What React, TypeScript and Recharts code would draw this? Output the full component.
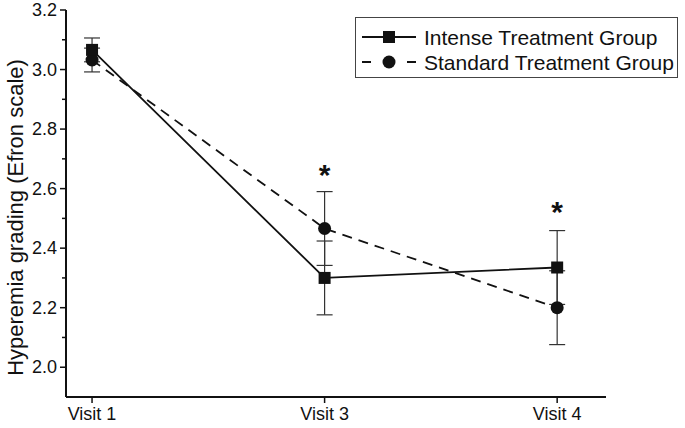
import React from 'react';
import { ComposedChart, Line, Scatter, XAxis, YAxis, ErrorBar, Legend } from 'recharts';

// values (means and error half-widths per visit)
const visits = ['Visit 1', 'Visit 3', 'Visit 4'];
const visitPos = [1, 2, 3];
const intense = [3.066, 2.3, 2.335];
const intenseErr = [0.04, 0.124, 0.124];
const standard = [3.032, 2.466, 2.2];
const standardErr = [0.04, 0.124, 0.124];
const yTicks = [2.0, 2.1, 2.2, 2.3, 2.4, 2.5, 2.6, 2.7, 2.8, 2.9, 3.0, 3.1, 3.2];
// significance markers (*)
const sigPos = [2, 3];
const sigLevel = [2.665, 2.54];

const FONT = '"Liberation Sans", Arial, sans-serif';
const INK = '#111';

const data = visitPos.map((x, i) => ({
  x,
  intense: intense[i],
  intenseErr: intenseErr[i],
  standard: standard[i],
  standardErr: standardErr[i],
}));
const sigData = sigPos.map((x, i) => ({ x, sig: sigLevel[i] }));

const YTick = (props: any) => {
  const { x, y, payload } = props;
  const major = Math.round(payload.value * 10) % 2 === 0;
  return (
    <g>
      <line x1={x - (major ? 6 : 4)} x2={x} y1={y} y2={y} stroke={INK} strokeWidth={1.5} />
      {major && (
        <text x={x - 9} y={y} dy={6} textAnchor="end" fontSize={18} fontFamily={FONT} fill={INK}>
          {payload.value.toFixed(1)}
        </text>
      )}
    </g>
  );
};

const XTick = (props: any) => {
  const { x, y, payload } = props;
  const i = visitPos.indexOf(payload.value);
  return (
    <g>
      <line x1={x} x2={x} y1={y} y2={y + 6} stroke={INK} strokeWidth={1.5} />
      <text x={x} y={y + 23} textAnchor="middle" fontSize={18} fontFamily={FONT} fill={INK}>
        {visits[i]}
      </text>
    </g>
  );
};

const SquareDot = (props: any) => {
  const { cx, cy, index } = props;
  return <rect key={`sq-${index}`} x={cx - 6} y={cy - 6} width={12} height={12} fill={INK} />;
};

const CircleDot = (props: any) => {
  const { cx, cy, index } = props;
  return <circle key={`ci-${index}`} cx={cx} cy={cy} r={6.5} fill={INK} />;
};

const Star = (props: any) => {
  const { cx, cy } = props;
  return (
    <text x={cx} y={cy + 16} textAnchor="middle" fontSize={30} fontWeight="bold" fontFamily={FONT} fill={INK}>
      *
    </text>
  );
};

const renderLegend = () => (
  <svg width={323} height={61} style={{ display: 'block' }}>
    <rect x={0.5} y={0.5} width={322} height={60} fill="#fff" stroke="#444" strokeWidth={1} />
    <line x1={7} x2={61} y1={20} y2={20} stroke={INK} strokeWidth={1.8} />
    <rect x={28} y={14} width={12} height={12} fill={INK} />
    <text x={69} y={28} fontSize={21} fontFamily={FONT} fill={INK}>Intense Treatment Group</text>
    <line x1={7} x2={61} y1={45} y2={45} stroke={INK} strokeWidth={1.8} strokeDasharray="9 36" />
    <circle cx={34} cy={45} r={6.5} fill={INK} />
    <text x={69} y={53} fontSize={21} fontFamily={FONT} fill={INK}>Standard Treatment Group</text>
  </svg>
);

const YLabel = (props: any) => {
  const { viewBox } = props;
  const cy = viewBox.y + viewBox.height / 2 + 14;
  const cx = 15;
  return (
    <text
      x={cx}
      y={cy}
      transform={`rotate(-90, ${cx}, ${cy})`}
      textAnchor="middle"
      dominantBaseline="central"
      fontSize={22}
      fontFamily={FONT}
      fill={INK}
    >
      Hyperemia grading (Efron scale)
    </text>
  );
};

export default function App() {
  return (
    <div style={{ position: 'absolute', left: 0, top: 0, background: '#fff' }}>
      <ComposedChart width={685} height={428} data={data} margin={{ top: 10, right: 79, bottom: 0, left: 0 }}>
        <XAxis
          dataKey="x"
          type="number"
          domain={[0.888, 3.21]}
          ticks={visitPos}
          allowDataOverflow
          height={31}
          tickLine={false}
          tickSize={0}
          tickMargin={0}
          axisLine={{ stroke: INK, strokeWidth: 2 }}
          tick={<XTick />}
        />
        <YAxis
          type="number"
          domain={[1.9, 3.2]}
          ticks={yTicks}
          allowDataOverflow
          width={66}
          tickLine={false}
          tickSize={0}
          tickMargin={0}
          axisLine={{ stroke: INK, strokeWidth: 2 }}
          tick={<YTick />}
          interval={0}
          label={{ content: <YLabel /> }}
        />
        <Legend
          layout="vertical"
          align="center"
          verticalAlign="middle"
          wrapperStyle={{ left: 355, top: 17, width: 323 }}
          content={renderLegend}
        />
        <Line
          dataKey="standard"
          stroke={INK}
          strokeWidth={1.8}
          strokeDasharray="10 7"
          dot={<CircleDot />}
          activeDot={false}
          isAnimationActive={false}
        >
          <ErrorBar dataKey="standardErr" direction="y" width={8} stroke="#333" strokeWidth={1.2} />
        </Line>
        <Line
          dataKey="intense"
          stroke={INK}
          strokeWidth={1.8}
          dot={<SquareDot />}
          activeDot={false}
          isAnimationActive={false}
        >
          <ErrorBar dataKey="intenseErr" direction="y" width={8} stroke="#333" strokeWidth={1.2} />
        </Line>
        <Scatter data={sigData} dataKey="sig" shape={<Star />} isAnimationActive={false} />
      </ComposedChart>
    </div>
  );
}
